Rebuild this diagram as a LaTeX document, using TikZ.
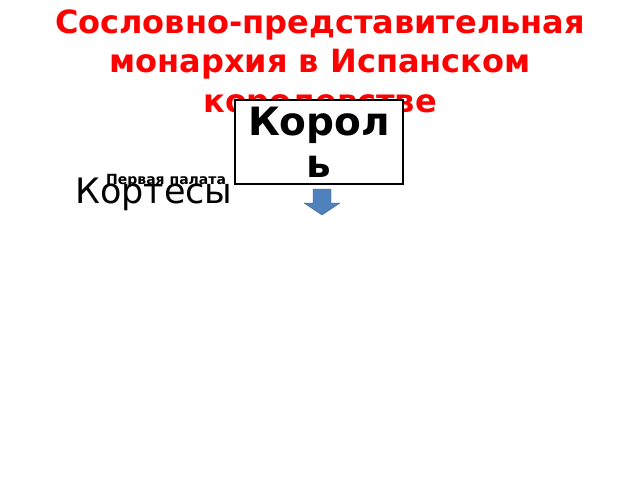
\documentclass[tikz,border=0pt]{standalone}
\usepackage{fontspec}
\setmainfont{DejaVu Sans}
\usetikzlibrary{positioning}

\definecolor{titlered}{RGB}{255,0,0}
\definecolor{arrowfill}{RGB}{79,129,189}
\definecolor{arrowline}{RGB}{56,93,138}

\begin{document}
\begin{tikzpicture}[x=1pt,y=-1pt]
\useasboundingbox (0,0) rectangle (640,480);
\node[align=center,text=titlered,font=\bfseries\fontsize{32}{39.5}\selectfont] (title) at (320,64) {Сословно-представительная\\монархия в Испанском\\королевстве};
\node[draw,line width=1.2pt,fill=white,minimum width=168pt,minimum height=84pt,align=center,inner sep=0pt,
  font=\bfseries\fontsize{39}{42}\selectfont] (king) at (319,142) {Корол\\ь};
\node[anchor=base west,inner sep=0pt,font=\fontsize{35}{40}\selectfont] (cortes) at (75,203) {Кортесы};
\node[anchor=base west,inner sep=0pt,font=\bfseries\fontsize{14}{16}\selectfont] (first) at (106,184) {Первая палата};
% down arrow below the king
\coordinate (arr) at (322,189);
\draw[fill=arrowfill,draw=arrowline,line join=round] (arr) ++(-9,0) -- ++(18,0) -- ++(0,14) -- ++(9,0)
  -- ++(-18,12) -- ++(-18,-12) -- ++(9,0) -- cycle;
\end{tikzpicture}
\end{document}
